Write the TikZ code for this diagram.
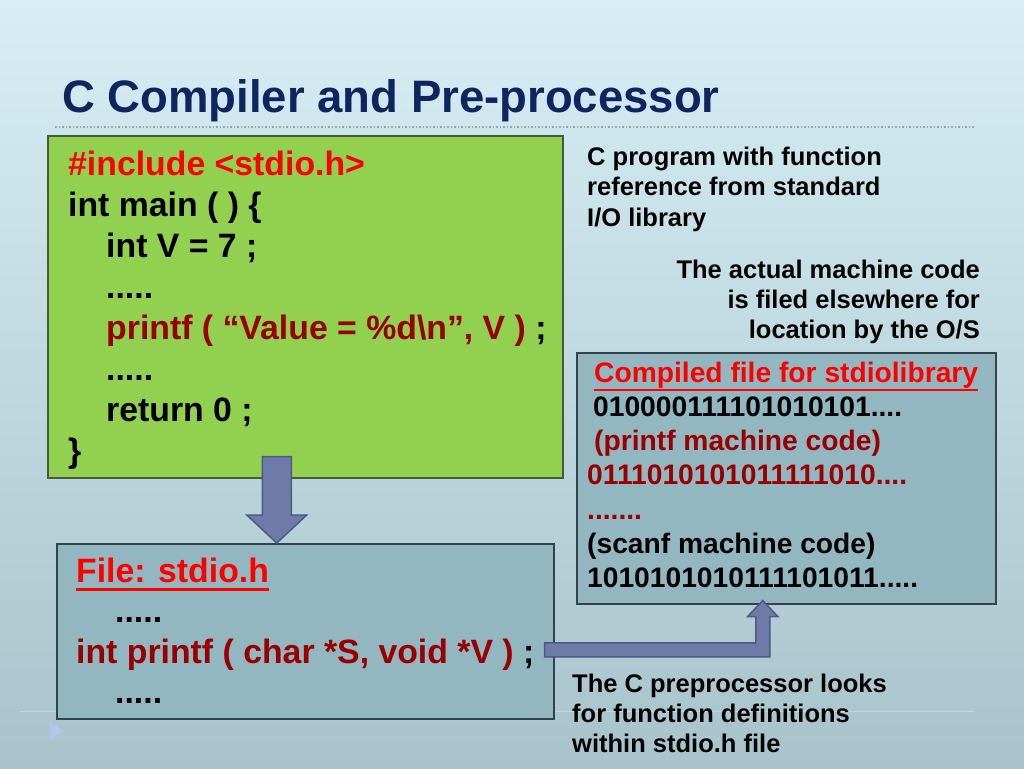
\documentclass[tikz,border=0pt]{standalone}
\usepackage{fontspec}
\setmainfont{Liberation Sans}
\usetikzlibrary{calc}

\definecolor{bgtop}{HTML}{D6EEF4}
\definecolor{bgbot}{HTML}{A8C3CB}
\definecolor{titleblue}{HTML}{0F2560}
\definecolor{codegreen}{HTML}{92D050}
\definecolor{greenline}{HTML}{475A3B}
\definecolor{boxblue}{HTML}{93B7C1}
\definecolor{boxline}{HTML}{33434B}
\definecolor{darkred}{HTML}{990000}
\definecolor{arrowfill}{HTML}{6E7BA8}
\definecolor{arrowline}{HTML}{4E5A82}

\begin{document}
\begin{tikzpicture}
  [x=1pt,y=-1pt,every node/.style={inner sep=0pt},
   box/.style={draw=boxline,line width=1.5pt,anchor=north west,fill=boxblue},
   codeline/.style={anchor=base west,font=\bfseries\fontsize{33.8}{40}\selectfont},
   libline/.style={anchor=base west,font=\bfseries\fontsize{28.2}{34}\selectfont},
   note/.style={anchor=base west,font=\bfseries\fontsize{25.5}{30}\selectfont},
   blockarrow/.style={draw=arrowline,fill=arrowfill,line width=1.5pt}]
  \useasboundingbox (0,0) rectangle (1024,768);
  \shade[top color=bgtop,bottom color=bgbot] (0,0) rectangle (1024,768);

  % title and rules
  \node[anchor=base west,text=titleblue,font=\bfseries\fontsize{45.5}{50}\selectfont]
    (title) at (62,112) {C Compiler and Pre-processor};
  \draw[draw=black!30!bgtop,line width=1.3pt,dash pattern=on 1.5pt off 2pt]
    (55,127) -- (975,127);
  \draw[white,opacity=.3,line width=1pt] (20,711) -- (975,711);
  \fill[blue!15!bgtop,opacity=.7] (50,722) -- (63,731) -- (50,740) -- cycle;

  % boxes
  \node[box,fill=codegreen,draw=greenline,minimum width=515,minimum height=342]
    (prog) at (47,135) {};
  \node[box,minimum width=497,minimum height=175] (hfile) at (56,543) {};
  \node[box,minimum width=419,minimum height=251] (lib) at (576,352) {};

  % the program
  \foreach \x/\txt [count=\i from 0] in {
      68/{\color{red}\#include <stdio.h>},
      68/{int main ( ) \{},
      106/{int V = 7 ;},
      106/{.....},
      106/{{\color{darkred}printf ( “Value = \%d\textbackslash n”, V )} ;},
      106/{.....},
      106/{return 0 ;},
      68/{\}}}
    \node[codeline] (code\i) at (\x,175+41*\i) {\txt};

  % the header file
  \node[codeline,text=red] (hhead) at (76,582) {File: stdio.h};
  \draw[red,line width=3pt] ([yshift=-7pt]hhead.base west) -- ([yshift=-7pt]hhead.base east);
  \node[codeline] (hdots1) at (115,622) {.....};
  \node[codeline] (hproto) at (76,663) {{\color{darkred}int printf ( char *S, void *V )} ;};
  \node[codeline] (hdots2) at (115,703) {.....};

  % the compiled library
  \node[libline,text=red] (lhead) at (594,382) {Compiled file for stdiolibrary};
  \draw[red,line width=2.5pt] ([yshift=-8pt]lhead.base west) -- ([yshift=-8pt]lhead.base east);
  \foreach \x/\txt [count=\i] in {
      593/{010000111101010101....},
      594/{\color{darkred}(printf machine code)},
      587/{\color{darkred}0111010101011111010....},
      587/{\color{darkred}.......},
      587/{(scanf machine code)},
      587/{1010101010111101011.....}}
    \node[libline] (lib\i) at (\x,382+34.3*\i) {\txt};

  % notes
  \node[note] (n1) at (587,165) {C program with function};
  \node[note] (n2) at (587,195) {reference from standard};
  \node[note] (n3) at (587,226) {I/O library};
  \node[note,anchor=base east] (n4) at (980,278) {The actual machine code};
  \node[note,anchor=base east] (n5) at (980,308) {is filed elsewhere for};
  \node[note,anchor=base east] (n6) at (980,338) {location by the O/S};
  \node[note] (n7) at (572,692) {The C preprocessor looks};
  \node[note] (n8) at (572,722) {for function definitions};
  \node[note] (n9) at (572,752) {within stdio.h file};

  % block arrows
  \coordinate (dtop) at ($(prog.south)+(-28.5,-22)$);
  \coordinate (dtip) at ($(hfile.north)+(-28.5,0)$);
  \draw[blockarrow] ($(dtop)+(-14.5,0)$) -- ($(dtop)+(14.5,0)$)
    -- ($(dtip)+(14.5,-28)$) -- ($(dtip)+(30,-28)$) -- (dtip)
    -- ($(dtip)+(-30,-28)$) -- ($(dtip)+(-14.5,-28)$) -- cycle;
  \coordinate (rstart) at ($(hfile.east)+(-10,18.5)$);
  \coordinate (rtip) at ($(lib.south)+(-23.5,-4)$);
  \coordinate (rbend) at (rtip |- rstart);
  \draw[blockarrow] ($(rstart)+(0,-7)$) -- ($(rbend)+(-7,-7)$)
    -- ($(rtip)+(-7,16)$) -- ($(rtip)+(-15,16)$) -- (rtip)
    -- ($(rtip)+(15,16)$) -- ($(rtip)+(7,16)$) -- ($(rbend)+(7,7)$)
    -- ($(rstart)+(0,7)$) -- cycle;
\end{tikzpicture}
\end{document}
